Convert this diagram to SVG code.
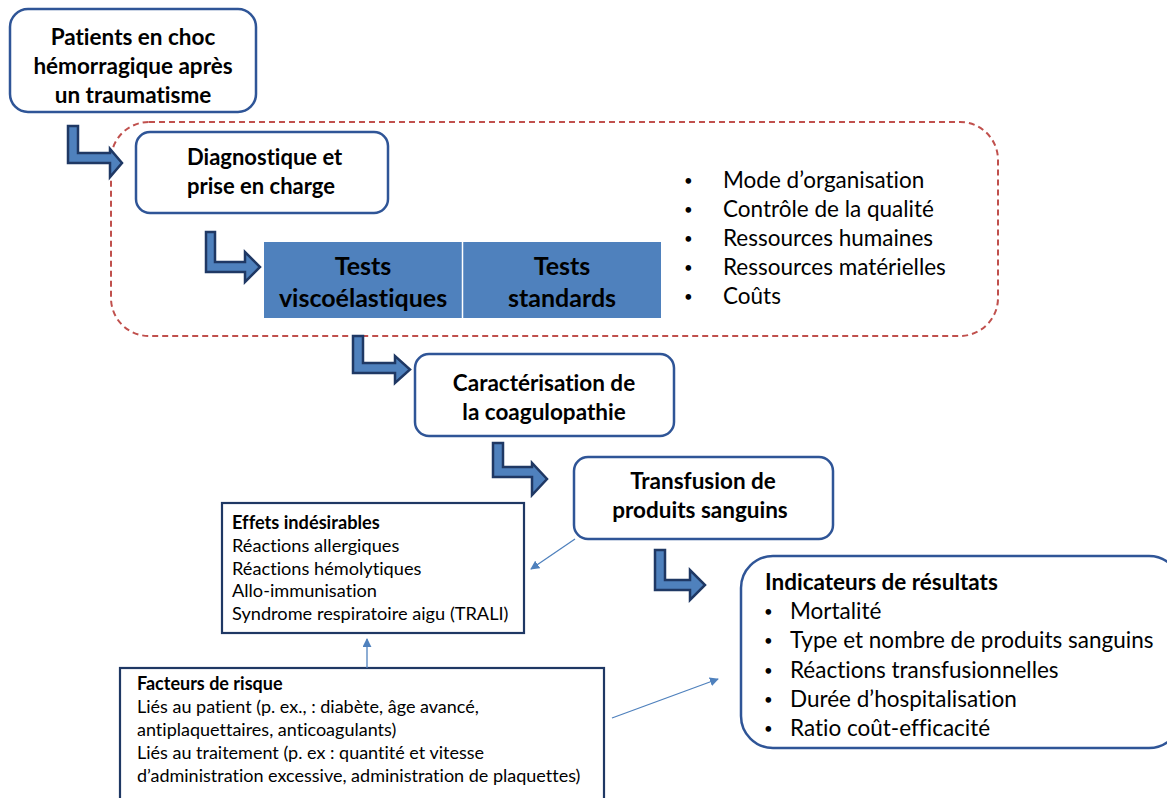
<svg xmlns="http://www.w3.org/2000/svg" width="1167" height="798" viewBox="0 0 1167 798">
<style>
.rbox{fill:#fff;stroke:#2F5597;stroke-width:2.5}
.sbox{fill:#fff;stroke:#1F3864;stroke-width:2.2}
.t{font-family:Lato,"Liberation Sans",sans-serif;fill:#000;font-variant-ligatures:none}
.b{font-weight:bold}
.c{text-anchor:middle}
.bu{font-size:15px}
.elb{fill:#4F81BD;stroke:#1F3864;stroke-width:2.5;stroke-linejoin:miter}
.thin{stroke:#4F81BD;stroke-width:1.3;fill:none}
</style>
<defs>
<marker id="ah" viewBox="0 0 10 10" refX="9" refY="5" markerWidth="9" markerHeight="9" markerUnits="userSpaceOnUse" orient="auto">
<path d="M0,0 L10,5 L0,10 z" fill="#4F81BD"/>
</marker>
</defs>

<g id="frame">
<rect x="111" y="122" width="887" height="214" rx="38" fill="none" stroke="#C0504D" stroke-width="2" stroke-dasharray="6,4"/>
</g>

<g id="n-patients">
<rect class="rbox" x="10" y="9" width="246" height="103" rx="18"/>
<text class="t b c" font-size="22.5" x="133" y="45">Patients en choc</text>
<text class="t b c" font-size="22.5" x="133" y="74">hémorragique après</text>
<text class="t b c" font-size="22.5" x="133" y="103">un traumatisme</text>
</g>

<g id="n-diag">
<rect class="rbox" x="136" y="132" width="252" height="81" rx="14"/>
<text class="t b" font-size="22" x="187" y="165">Diagnostique et</text>
<text class="t b" font-size="22" x="187" y="194">prise en charge</text>
</g>

<g id="n-tests">
<rect x="264" y="242" width="397" height="76" fill="#4F81BD"/>
<line x1="462.5" y1="242" x2="462.5" y2="318" stroke="#fff" stroke-width="1.5"/>
<text class="t b c" font-size="25" x="363" y="275">Tests</text>
<text class="t b c" font-size="25" x="363" y="307">viscoélastiques</text>
<text class="t b c" font-size="25" x="562" y="275">Tests</text>
<text class="t b c" font-size="25" x="562" y="307">standards</text>
</g>

<g id="n-list">
<g class="t" font-size="22.5">
<text class="bu" x="684" y="186">•</text><text x="723" y="188">Mode d’organisation</text>
<text class="bu" x="684" y="215">•</text><text x="723" y="217">Contrôle de la qualité</text>
<text class="bu" x="684" y="244">•</text><text x="723" y="246">Ressources humaines</text>
<text class="bu" x="684" y="273">•</text><text x="723" y="275">Ressources matérielles</text>
<text class="bu" x="684" y="302">•</text><text x="723" y="304">Coûts</text>
</g>
</g>

<g id="n-carac">
<rect class="rbox" x="415" y="354" width="259" height="82" rx="14"/>
<text class="t b c" font-size="22.5" x="544" y="391">Caractérisation de</text>
<text class="t b c" font-size="22.5" x="544" y="420">la coagulopathie</text>
</g>

<g id="n-transf">
<rect class="rbox" x="574" y="457" width="259" height="82" rx="14"/>
<text class="t b c" font-size="22.5" x="703" y="489">Transfusion de</text>
<text class="t b c" font-size="22.5" x="700" y="518">produits sanguins</text>
</g>

<g id="n-effets">
<rect class="sbox" x="222" y="503" width="302" height="130"/>
<g class="t" font-size="18.2">
<text class="b" x="232" y="529">Effets indésirables</text>
<text x="232" y="552">Réactions allergiques</text>
<text x="232" y="575">Réactions hémolytiques</text>
<text x="232" y="597">Allo-immunisation</text>
<text x="232" y="620">Syndrome respiratoire aigu (TRALI)</text>
</g>
</g>

<g id="n-facteurs">
<rect class="sbox" x="120" y="668" width="484" height="140"/>
<g class="t" font-size="18">
<text class="b" x="137" y="690">Facteurs de risque</text>
<text x="137" y="713">Liés au patient (p. ex., : diabète, âge avancé,</text>
<text x="137" y="736">antiplaquettaires, anticoagulants)</text>
<text x="137" y="759">Liés au traitement (p. ex : quantité et vitesse</text>
<text x="137" y="782">d’administration excessive, administration de plaquettes)</text>
</g>
</g>

<g id="n-indic">
<rect class="rbox" x="741" y="556" width="440" height="192" rx="32"/>
<g class="t" font-size="22.5">
<text class="b" x="765" y="590">Indicateurs de résultats</text>
<text class="bu" x="764" y="617">•</text><text x="790" y="619">Mortalité</text>
<text class="bu" x="764" y="646">•</text><text x="790" y="648">Type et nombre de produits sanguins</text>
<text class="bu" x="764" y="676">•</text><text x="790" y="678">Réactions transfusionnelles</text>
<text class="bu" x="764" y="705">•</text><text x="790" y="707">Durée d’hospitalisation</text>
<text class="bu" x="764" y="734">•</text><text x="790" y="736">Ratio coût-efficacité</text>
</g>
</g>

<g id="connectors">
<path class="elb" d="M68,126 H78 V153 H110 V149 L122,163 L110,177 V163 H68 Z"/>
<path class="elb" d="M206,232 H215 V262 H245 V252 L260,267 L245,282 V272 H206 Z"/>
<path class="elb" d="M353,336 H363 V363 H395 V356 L410,369.5 L395,383 V373 H353 Z"/>
<path class="elb" d="M493,443 H503 V467 H532 V463 L547,479 L532,495 V477 H493 Z"/>
<path class="elb" d="M655,550 H665 V580 H690 V570 L705,585 L690,600 V590 H655 Z"/>
<line class="thin" x1="575" y1="539" x2="531" y2="569" marker-end="url(#ah)"/>
<line class="thin" x1="367" y1="668" x2="367" y2="639" marker-end="url(#ah)"/>
<line class="thin" x1="612" y1="718" x2="718" y2="679" marker-end="url(#ah)"/>
</g>
</svg>
